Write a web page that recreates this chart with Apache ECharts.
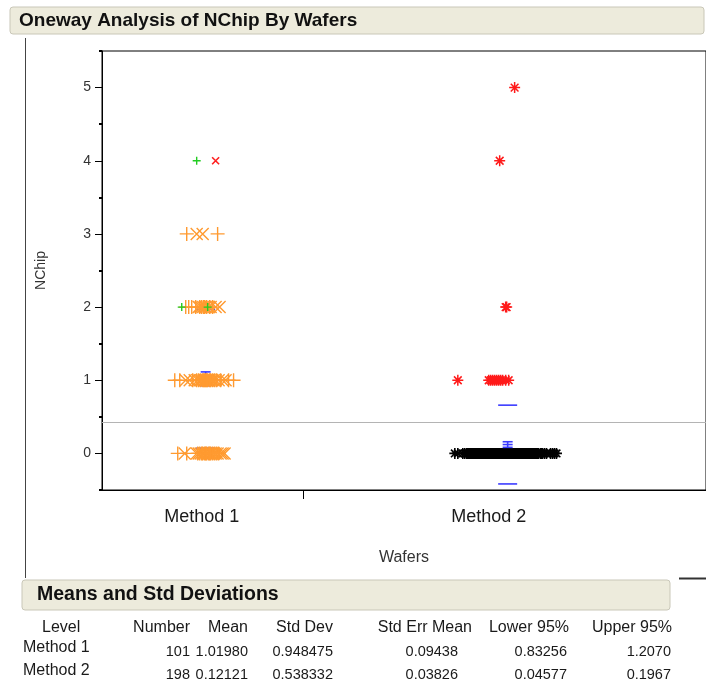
<!DOCTYPE html>
<html>
<head>
<meta charset="utf-8">
<script src="https://cdn.jsdelivr.net/npm/echarts@6/dist/echarts.min.js"></script>
<style>
  html, body { margin: 0; padding: 0; background: #fff; }
  #chart { width: 706px; height: 687px; }
</style>
</head>
<body>
<div id="chart"></div>
<script>
// ---------------- data ----------------
const categories = ['Method 1', 'Method 2'];
const groupCounts = [101, 198];
const groupMeans = [1.01980, 0.12121];
const groupStdDev = [0.948475, 0.538332];
const groupStdErr = [0.09438, 0.03826];
const yTicks = [0, 1, 2, 3, 4, 5];
const yMinorTicks = [-0.5, 0.5, 1.5, 2.5, 3.5, 4.5, 5.5];

// Method 1 jittered x positions (axis units), indexed by NChip level 0..3
const method1PlusX = [
  [38, 42.5, 48, 49, 50, 50.5, 51.5, 52, 52.5, 53.5, 54, 54.5, 55.5, 56.5, 57.5, 58.5],
  [36.5, 39, 45.5, 47.5, 48.5, 49.5, 50.5, 51, 51.5, 52, 52.5, 53, 54, 54.5, 55.5, 56.5, 57.5, 59.5, 63.5, 66],
  [42, 43.5, 45, 47, 49, 50, 51, 51.5, 52.5, 54, 55.5],
  [42.5, 58]
];
const method1CrossX = [
  [41.5, 47.5, 48.5, 49.5, 50.5, 51, 51.5, 52.5, 53, 53.5, 54.5, 55, 56, 57, 58, 59.5, 60.5, 61.5],
  [42, 44, 46.5, 48, 49, 50, 51, 51.5, 52, 52.5, 53, 53.5, 54, 55, 56, 57, 58.5, 60.5, 62],
  [48.5, 49.5, 50.5, 51.5, 52, 53.5, 54.5, 57, 59],
  [47.5, 50.5]
];
const method1GreenPlus = [[40, 2], [53, 2], [47.5, 4]];
const method1RedCross = [[57, 4]];

// Method 2
const method2Red = [
  [207, 5], [199.5, 4], [202.5, 2], [203, 2],
  [178.5, 1], [194, 1], [195, 1], [196, 1], [197, 1], [198, 1], [199, 1], [200, 1], [201, 1], [202.5, 1], [204, 1]
];
const method2ZeroX = [
  177, 178.5, 181, 182, 183, 184, 184.5, 185, 185.5, 186, 186.5, 187, 187.5, 188, 188.5, 189, 189.5, 190, 190.5, 191,
  191.5, 192, 192.5, 193, 193.5, 194, 194.5, 195, 195.5, 196, 196.5, 197, 197.5, 198, 198.5, 199, 199.5, 200, 200.5, 201,
  201.5, 202, 202.5, 203, 203.5, 204, 204.5, 205, 205.5, 206, 206.5, 207, 207.5, 208, 208.5, 209, 209.5, 210, 210.5, 211,
  211.5, 212, 212.5, 213, 213.5, 214, 214.5, 215, 216, 217, 218, 219, 220, 221, 222, 223, 225, 226, 227, 228,
  183.3, 185.2, 186.8, 188.3, 189.7, 191.2, 192.8, 194.2, 195.7, 197.3, 198.8, 200.2, 201.7, 203.3, 204.8, 206.2, 207.7, 209.3, 210.8, 212.2,
  187.6, 189.2, 190.8, 192.4, 193.8, 195.3, 196.8, 198.2, 199.8, 201.3, 202.8, 204.3, 205.7, 207.2, 208.8, 210.2, 211.8, 213.2, 215.5, 217.5,
  190.3, 191.7, 193.2, 194.7, 196.2, 197.7, 199.2, 200.7, 202.2, 203.7, 205.2, 206.7, 208.2, 209.7, 211.2, 212.7, 214.2, 216.5, 218.5, 220.5,
  192.2, 193.6, 195.1, 196.6, 198.1, 199.6, 201.1, 202.6, 204.1, 205.6, 207.1, 208.6, 210.1, 211.6, 213.6, 195.9, 198.4, 200.9, 203.4, 205.9,
  188.9, 191.4, 194.4, 197.9, 200.4, 202.9, 204.6, 206.4, 208.4, 210.6, 196.4, 199.4, 201.9, 198.7, 200.1, 202.4, 204.9, 199.1, 201.4, 203.9,
  200.3, 201.6, 202.1
];

// table
const tableHeader = ['Level', 'Number', 'Mean', 'Std Dev', 'Std Err Mean', 'Lower 95%', 'Upper 95%'];
const tableRow1 = ['Method 1', '101', '1.01980', '0.948475', '0.09438', '0.83256', '1.2070'];
const tableRow2 = ['Method 2', '198', '0.12121', '0.538332', '0.03826', '0.04577', '0.1967'];

// ---------------- build ----------------
const totalN = groupCounts[0] + groupCounts[1];
const grandMean = (groupCounts[0] * groupMeans[0] + groupCounts[1] * groupMeans[1]) / totalN;
const groupStart = [0, groupCounts[0]];
const groupCenter = [groupCounts[0] / 2, groupCounts[0] + groupCounts[1] / 2];
const labelPos = [50, 194];
const statOffset = [1.5, 3.5];

const toPairs = (lists) => lists.flatMap((xs, lvl) => xs.map(x => [x, lvl]));
const m1Plus = toPairs(method1PlusX);
const m1Cross = toPairs(method1CrossX);
const m2Zero = method2ZeroX.map(x => [x, 0]);

const PLUS = 'path://M0,5L10,5M5,0L5,10';
const CROSS = 'path://M0,0L10,10M10,0L0,10';
const STAR = 'path://M5,0L5,10M0,5L10,5M1.5,1.5L8.5,8.5M8.5,1.5L1.5,8.5';
const ORANGE = '#ff9a30';
const FONT = 'Liberation Sans, Arial, sans-serif';

function markerSeries(data, symbol, size, color, lw, z) {
  return {
    type: 'scatter', data, symbol, symbolSize: size, symbolKeepAspect: true,
    itemStyle: { color: color, borderColor: color, borderWidth: lw, opacity: 1 },
    z, silent: true
  };
}

const statData = [0, 1].map(i => [groupCenter[i] + statOffset[i], groupMeans[i], groupStdErr[i], groupStdDev[i]]);

const chart = echarts.init(document.getElementById('chart'), null, { renderer: 'canvas' });

const tableGraphics = [];
const headerRight = [null, 190, 248, 333, 472, 569, 672];
const valueRight = [null, 190, 248, 333, 458, 567, 671];
tableHeader.forEach((t, i) => {
  tableGraphics.push({
    type: 'text', left: i === 0 ? 42 : null, right: i === 0 ? null : 706 - headerRight[i], top: 620,
    style: { text: t, font: '16px ' + FONT, fill: '#1a1a1a' }
  });
});
[tableRow1, tableRow2].forEach((row, r) => {
  row.forEach((t, i) => {
    tableGraphics.push({
      type: 'text', left: i === 0 ? 23 : null, right: i === 0 ? null : 706 - valueRight[i],
      top: (i === 0 ? 640 : 644) + r * 23,
      style: { text: t, font: (i === 0 ? '16px ' : '14.5px ') + FONT, fill: '#1a1a1a' }
    });
  });
});

const option = {
  animation: false,
  backgroundColor: '#ffffff',
  grid: { left: 102, right: -2, top: 51, bottom: 197, show: true, borderColor: '#000', borderWidth: 1, backgroundColor: 'transparent' },
  xAxis: {
    type: 'value', min: 0, max: 303,
    axisLine: { show: true, onZero: false, lineStyle: { color: '#000', width: 1 } },
    axisTick: { show: true, customValues: [groupStart[1]], length: 9, lineStyle: { color: '#000', width: 1 } },
    axisLabel: {
      customValues: labelPos, margin: 18, fontSize: 18, fontFamily: FONT, color: '#1a1a1a',
      formatter: v => (v < groupStart[1] ? categories[0] : categories[1])
    },
    splitLine: { show: false },
    name: 'Wafers', nameLocation: 'middle', nameGap: 60,
    nameTextStyle: { fontSize: 16, fontFamily: FONT, color: '#333' }
  },
  yAxis: [{
    type: 'value', min: -0.5, max: 5.5, position: 'left',
    axisLine: { show: true, onZero: false, lineStyle: { color: '#000', width: 1 } },
    axisTick: { show: true, customValues: yTicks, length: 7, lineStyle: { color: '#000', width: 1 } },
    axisLabel: { customValues: yTicks, margin: 11, fontSize: 14, fontFamily: FONT, color: '#333' },
    splitLine: { show: false },
    name: 'NChip', nameLocation: 'middle', nameGap: 54, nameRotate: 90,
    nameTextStyle: { fontSize: 14, fontFamily: FONT, color: '#333' }
  }, {
    type: 'value', min: -0.5, max: 5.5, position: 'left',
    axisLine: { show: false, onZero: false },
    axisTick: { show: true, customValues: yMinorTicks, length: 3, lineStyle: { color: '#000', width: 2 } },
    axisLabel: { show: false },
    splitLine: { show: false }
  }],
  series: [
    {
      type: 'line', data: [], silent: true, z: 1,
      markLine: {
        silent: true, symbol: 'none', label: { show: false },
        lineStyle: { color: '#b4b4b4', width: 1.2, type: 'solid' },
        data: [{ yAxis: grandMean }]
      }
    },
    markerSeries(m2Zero, STAR, 11, '#000000', 1.6, 2),
    markerSeries(method2Red, STAR, 11, '#ff1a1a', 1.5, 3),
    {
      type: 'custom', data: statData, z: 4, silent: true,
      renderItem: function (params, api) {
        const cx = api.value(0), m = api.value(1), se = api.value(2), sd = api.value(3);
        const c = api.coord([cx, m]);
        const yp = v => api.coord([cx, v])[1];
        const seHalf = 5, sdHalf = 9.5;
        const st = { stroke: '#3c3cff', lineWidth: 1.6 };
        const hl = (y, h) => ({ type: 'line', shape: { x1: c[0] - h, y1: y, x2: c[0] + h, y2: y }, style: st });
        return {
          type: 'group',
          children: [
            hl(yp(m), seHalf),
            hl(yp(m + se), seHalf),
            hl(yp(m - se), seHalf),
            { type: 'line', shape: { x1: c[0], y1: yp(m + se), x2: c[0], y2: yp(m - se) }, style: st },
            hl(yp(m + sd), sdHalf),
            hl(yp(m - sd), sdHalf)
          ]
        };
      }
    },
    markerSeries(m1Cross, CROSS, 12, ORANGE, 1.4, 5),
    markerSeries(m1Plus, PLUS, 14, ORANGE, 1.4, 6),
    markerSeries(method1GreenPlus, PLUS, 8, '#22cc22', 1.4, 7),
    markerSeries(method1RedCross, CROSS, 7, '#ff2020', 1.6, 7)
  ],
  graphic: [
    // title bar
    { type: 'rect', shape: { x: 10, y: 7, width: 694, height: 27, r: 3 }, style: { fill: '#edebdc', stroke: '#c9c7b8', lineWidth: 1 }, z: 0 },
    { type: 'text', left: 19, top: 11, style: { text: 'Oneway Analysis of NChip By Wafers', font: 'bold 19px ' + FONT, fill: '#111' } },
    // outer panel border
    { type: 'line', shape: { x1: 25.5, y1: 38, x2: 25.5, y2: 578 }, style: { stroke: '#444', lineWidth: 1 } },
    { type: 'line', shape: { x1: 679, y1: 578.5, x2: 706, y2: 578.5 }, style: { stroke: '#333', lineWidth: 2 } },
    // means bar
    { type: 'rect', shape: { x: 22, y: 580, width: 648, height: 30, r: 3 }, style: { fill: '#edebdc', stroke: '#c9c7b8', lineWidth: 1 } },
    { type: 'text', left: 37, top: 585, style: { text: 'Means and Std Deviations', font: 'bold 19.5px ' + FONT, fill: '#111' } },
    ...tableGraphics
  ]
};
chart.setOption(option);
</script>
</body>
</html>
